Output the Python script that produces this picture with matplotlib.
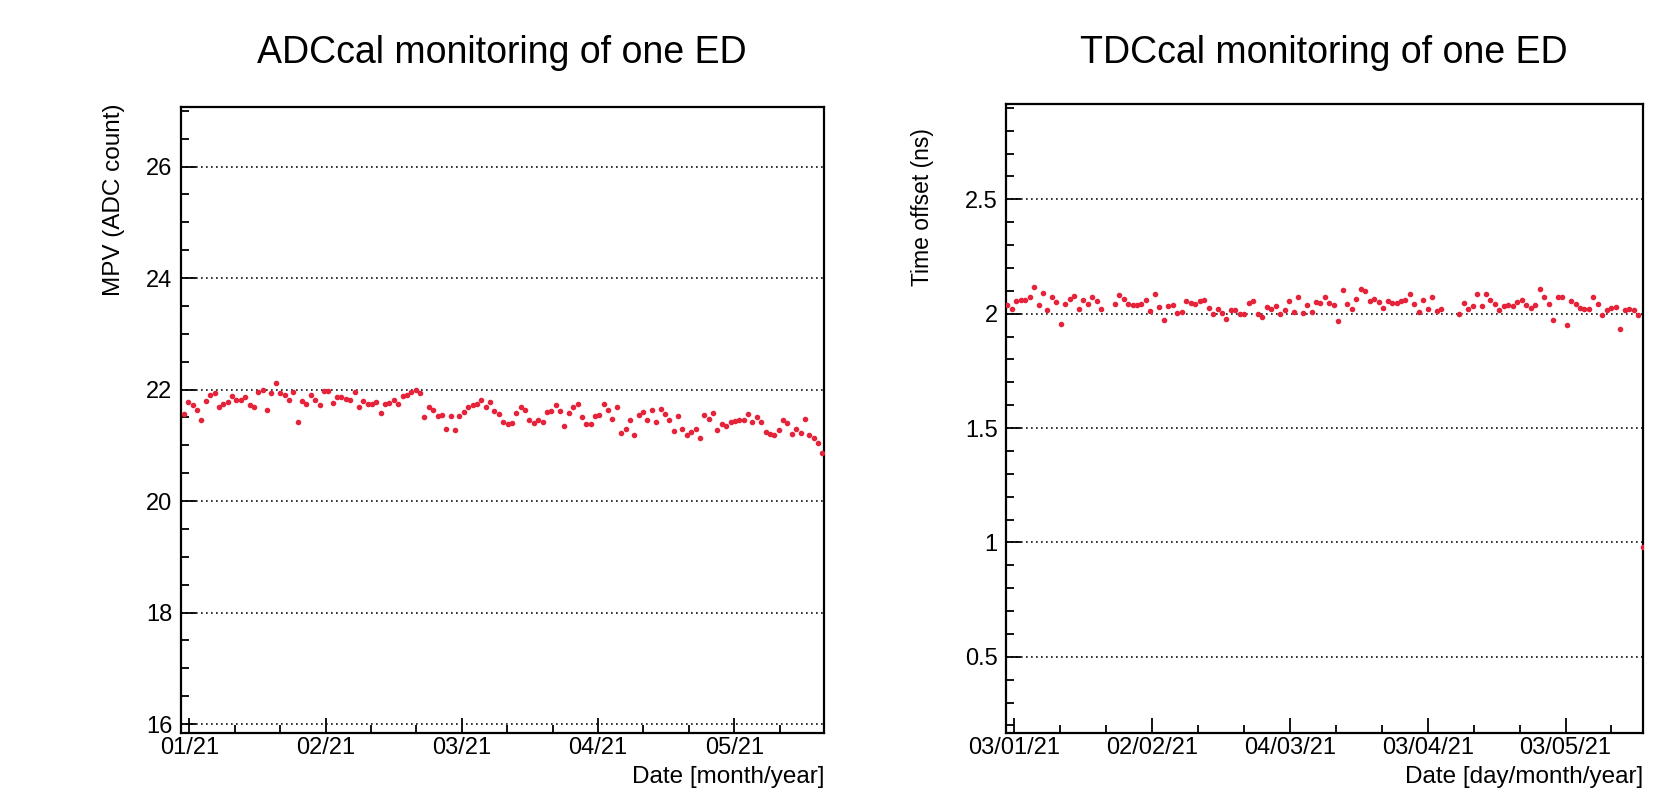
import matplotlib
matplotlib.use("Agg")
import matplotlib.pyplot as plt
import matplotlib.dates as mdates
from matplotlib.ticker import MultipleLocator, FixedLocator, FormatStrFormatter
import numpy as np
import pandas as pd

plt.rcParams['font.family'] = ['Liberation Sans', 'DejaVu Sans']

# --- ADC calibration: MPV per day ---
adc_mpv = [
    21.57, 21.78, 21.72, 21.64, 21.45, 21.80, 21.90, 21.94, 21.69, 21.75,
    21.78, 21.88, 21.81, 21.81, 21.87, 21.72, 21.69, 21.96, 21.99, 21.64,
    21.93, 22.11, 21.93, 21.90, 21.82, 21.96, 21.42, 21.80, 21.75, 21.90,
    21.81, 21.72, 21.98, 21.98, 21.76, 21.87, 21.86, 21.84, 21.81, 21.96,
    21.69, 21.80, 21.75, 21.74, 21.78, 21.58, 21.74, 21.76, 21.81, 21.75,
    21.88,
    21.90, 21.96, 21.99, 21.93, 21.51, 21.69, 21.64, 21.52, 21.54, 21.29,
    21.52, 21.27, 21.52, 21.60, 21.69, 21.72, 21.74, 21.81, 21.69, 21.78,
    21.62, 21.57, 21.42, 21.38, 21.40, 21.58, 21.68, 21.64, 21.46, 21.40,
    21.46, 21.42, 21.60, 21.62, 21.72, 21.62, 21.35, 21.58, 21.69, 21.74,
    21.50, 21.38, 21.38, 21.52, 21.54, 21.74, 21.64, 21.48, 21.69,
    21.23, 21.30, 21.45, 21.18, 21.54, 21.60, 21.45, 21.63, 21.42, 21.66,
    21.57, 21.45, 21.26, 21.52, 21.30, 21.18, 21.24, 21.29, 21.13, 21.54,
    21.48, 21.58, 21.27, 21.39, 21.35, 21.42, 21.44, 21.46, 21.46, 21.57,
    21.42, 21.51, 21.42, 21.24, 21.21, 21.18, 21.27, 21.46, 21.40, 21.21,
    21.30, 21.23, 21.48, 21.18, 21.14, 21.04, 20.86,
]
adc_first, adc_last = "2021-01-01 19:00", "2021-05-22 10:00"

# --- TDC calibration: time offset per day (nan = no data) ---
nan = np.nan
tdc_offset = [
    2.037, 2.022, 2.056, 2.059, 2.062, 2.071, 2.118, 2.037, 2.091, 2.018,
    2.074, 2.051, 1.953, 2.041, 2.066, 2.076, 2.022, 2.062, 2.044, 2.071,
    2.056, 2.022, nan, nan, 2.044, 2.081, 2.066, 2.041, 2.037, 2.037,
    2.044, 2.059, 2.012, 2.088, 2.029, 1.974, 2.032, 2.037, 2.003, 2.007,
    2.056, 2.047, 2.041, 2.056, 2.062, 2.026, 1.997,
    2.022, 2.003, 1.978, 2.015, 2.018, 1.997, 2.000, 2.047, 2.056, 1.997,
    1.985, 2.029, 2.022, 2.032, 2.000, 2.015, 2.056, 2.007, 2.074, 2.003,
    2.037, 2.007, 2.051, 2.047, 2.074, 2.047, 2.037, 1.968, 2.103, 2.041,
    2.022, 2.066, 2.106, 2.100, 2.056, 2.066, 2.051, 2.026, 2.056, 2.047,
    2.047, 2.056, 2.062, 2.085, 2.044, 2.007, 2.062, 2.022,
    2.074, 2.012, 2.022, nan, nan, nan, 1.997, 2.047, 2.022, 2.032,
    2.088, 2.032, 2.085, 2.062, 2.041, 2.015, 2.032, 2.037, 2.032, 2.051,
    2.059, 2.037, 2.026, 2.037, 2.110, 2.074, 2.041, 1.974, 2.071, 2.071,
    1.949, 2.056, 2.041, 2.026, 2.022, 2.022, 2.071, 2.041, 1.993, 2.018,
    2.026, 2.029, 1.934, 2.018, 2.022, 2.015, 1.993, 0.98,
]
tdc_first, tdc_last = "2021-01-01 11:00", "2021-05-19 19:00"

adc_dates = pd.date_range(adc_first, adc_last, periods=len(adc_mpv))
tdc_dates = pd.date_range(tdc_first, tdc_last, periods=len(tdc_offset))

major_dates = pd.date_range("2021-01-03", periods=5, freq="30D")
minor_dates = pd.date_range("2020-12-24", periods=17, freq="10D")

fig = plt.figure(figsize=(16.77, 7.90), dpi=100)
ax1 = fig.add_axes([0.1079, 0.0722, 0.3835, 0.7924])
ax2 = fig.add_axes([0.6000, 0.0722, 0.3798, 0.7962])

red = '#e5243b'


def style_axis(ax, fmt):
    for s in ax.spines.values():
        s.set_linewidth(1.6)
    ax.xaxis.set_major_locator(FixedLocator(mdates.date2num(major_dates)))
    ax.xaxis.set_minor_locator(FixedLocator(mdates.date2num(minor_dates)))
    ax.xaxis.set_major_formatter(mdates.DateFormatter(fmt))
    ax.tick_params(which='both', direction='in', top=False, right=False,
                   width=1.3, labelsize=17)
    ax.tick_params(axis='x', pad=3)
    ax.tick_params(axis='y', pad=6)
    ax.tick_params(which='major', length=11)
    ax.tick_params(which='minor', length=6)
    ax.yaxis.grid(True, which='major', linestyle=(0, (1, 2)),
                  color='#111111', linewidth=1.2)


# left: ADCcal
ax1.plot(adc_dates, adc_mpv, linestyle='none', marker='o', ms=3,
         color=red, mec=red, zorder=3)
ax1.set_xlim(pd.Timestamp("2021-01-01 03:00"), pd.Timestamp("2021-05-22 19:00"))
ax1.set_ylim(15.84, 27.07)
ax1.yaxis.set_major_locator(MultipleLocator(2))
ax1.yaxis.set_minor_locator(MultipleLocator(0.5))
style_axis(ax1, "%m/%y")
ax1.set_ylabel("MPV (ADC count)", fontsize=17.5, loc='top')
ax1.yaxis.set_label_coords(-0.087, 1.005)
ax1.set_xlabel("Date [month/year]", fontsize=17.5, loc='right')
ax1.xaxis.set_label_coords(1.0, -0.052)

# right: TDCcal
ax2.plot(tdc_dates, tdc_offset, linestyle='none', marker='o', ms=3,
         color=red, mec=red, zorder=3, clip_on=True)
ax2.set_xlim(pd.Timestamp("2021-01-01 05:45"), pd.Timestamp("2021-05-19 21:30"))
ax2.set_ylim(0.167, 2.917)
ax2.yaxis.set_major_locator(MultipleLocator(0.5))
ax2.yaxis.set_minor_locator(MultipleLocator(0.1))
ax2.yaxis.set_major_formatter(FormatStrFormatter('%g'))
style_axis(ax2, "%d/%m/%y")
ax2.set_ylabel("Time offset (ns)", fontsize=16.5, loc='top')
ax2.yaxis.set_label_coords(-0.113, 0.962)
ax2.set_xlabel("Date [day/month/year]", fontsize=17.5, loc='right')
ax2.xaxis.set_label_coords(1.0, -0.052)

fig.text(502 / 1677, 1 - 53 / 790, "ADCcal monitoring of one ED",
         fontsize=27, ha='center', va='center')
fig.text(1324 / 1677, 1 - 53 / 790, "TDCcal monitoring of one ED",
         fontsize=27, ha='center', va='center')

fig.savefig("out.png", dpi=100)
